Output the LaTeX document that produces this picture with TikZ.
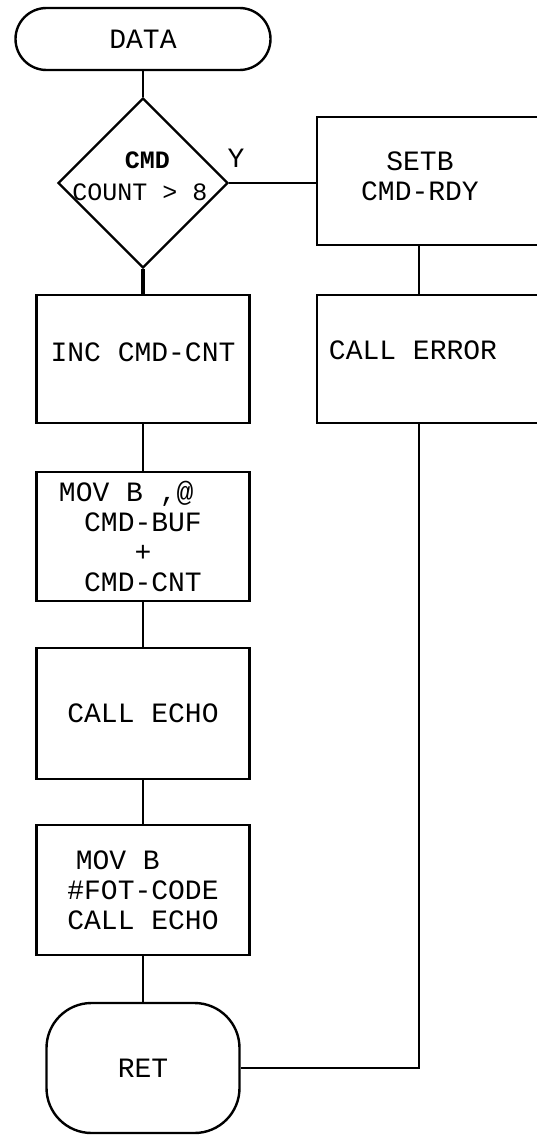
\documentclass[tikz,border=0pt]{standalone}
\usepackage{fontspec}
\setmonofont{Liberation Mono}
\usetikzlibrary{shapes.geometric,positioning}
\tikzset{
  terminal/.style={
    shape = rectangle,
    draw,
    line width = 2.4pt,
    minimum width = 255pt,
    minimum height = 62pt,
    rounded corners = 31pt
  },
  decision/.style={
    shape = diamond,
    draw,
    line width = 2.4pt,
    inner sep = 0pt,
    minimum width = 170pt,
    minimum height = 170pt
  },
  process/.style={
    shape = rectangle,
    draw,
    line width = 2.4pt,
    align = center,
    minimum width = 213pt,
    minimum height = 128pt
  },
  txt/.style={
    align = center,
    inner sep = 0pt
  },
  link/.style={
    line width = 2pt
  }
}
\begin{document}
\begin{tikzpicture}[x=1pt,y=-1pt,font=\ttfamily\fontsize{28}{30}\selectfont]
  \clip (0,0) rectangle (537,1135);
  % left column
  \node[terminal] (data) at (143,39) {DATA};
  \node[decision] (cond) at (143,183) {};
  \node[txt,font=\ttfamily\fontsize{25}{32}\selectfont] (condtxt) at (140,176)
       {\hphantom{x}\textbf{CMD}\\COUNT > 8};
  \node[txt] (yes) at (236,158) {Y};
  \node[process, text depth=14pt] (inc) at (143,359) {INC CMD-CNT};
  \node[process, minimum height=129pt] (movbuf) at (143,536.5)
       {MOV B ,@\hphantom{xx}\\CMD-BUF\\+\\CMD-CNT};
  \node[process, minimum height=131pt] (echo) at (143,713.5) {CALL ECHO};
  \node[process, minimum height=130pt] (moveot) at (143,890)
       {MOV B\hphantom{xxx}\\\#FOT-CODE\\CALL ECHO};
  \node[terminal, minimum width=193pt, minimum height=130pt,
        rounded corners=45pt] (ret) at (143,1068) {RET};
  % right column
  \node[process, minimum width=228pt] (setb) at (431,181) {};
  \node[txt] (setbtxt) at (420,176) {SETB\\CMD-RDY};
  \node[process, minimum width=228pt] (err) at (431,359) {};
  \node[txt] (errtxt) at (413,350) {CALL ERROR};
  \coordinate (rcol) at (419,0);

  \draw[link] (data) -- (cond);
  \draw[link, line width=3.4pt] (cond) -- (inc);
  \draw[link] (inc) -- (movbuf);
  \draw[link] (movbuf) -- (echo);
  \draw[link] (echo) -- (moveot);
  \draw[link] (moveot) -- (ret);
  \draw[link] (cond.east) -- (setb.west |- cond.east);
  \draw[link] (setb.south -| rcol) -- (err.north -| rcol);
  \draw[link] (err.south -| rcol) |- (ret.east);
\end{tikzpicture}
\end{document}
